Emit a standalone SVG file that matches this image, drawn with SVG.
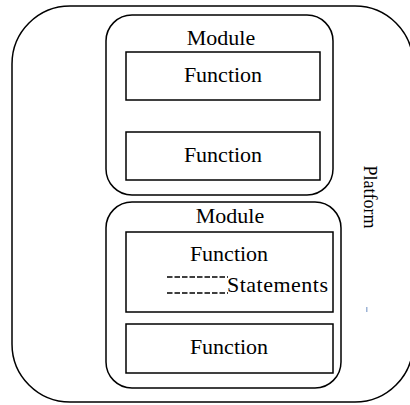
<svg xmlns="http://www.w3.org/2000/svg" width="410" height="405" viewBox="0 0 410 405">
<style>
.box{fill:none;stroke:#000;stroke-width:1.5}
.lbl{font-family:"Liberation Serif","Times New Roman",serif;font-size:22px;fill:#000;text-anchor:middle}
.dash{stroke:#000;stroke-width:1.5;stroke-dasharray:5.5 2}
</style>
<rect width="410" height="405" fill="#fff"/>
<g id="platform">
<rect class="box" x="12" y="6" width="401" height="396" rx="58" ry="58"/>
<text class="lbl" style="font-size:18px" transform="translate(364,197) rotate(90)">Platform</text>
<rect x="366" y="307" width="1.5" height="5" fill="#9db4d6"/>
</g>
<g id="module1">
<rect class="box" x="106" y="15" width="227" height="180" rx="26" ry="26"/>
<text class="lbl" x="221" y="45">Module</text>
</g>
<g id="function1">
<rect class="box" x="126" y="52" width="194" height="48"/>
<text class="lbl" x="223" y="82">Function</text>
</g>
<g id="function2">
<rect class="box" x="126" y="132" width="194" height="48"/>
<text class="lbl" x="223" y="162">Function</text>
</g>
<g id="module2">
<rect class="box" x="106" y="202" width="235" height="186" rx="26" ry="26"/>
<text class="lbl" x="230" y="223">Module</text>
</g>
<g id="function3">
<rect class="box" x="126" y="232" width="207" height="80"/>
<text class="lbl" x="229" y="261">Function</text>
<line class="dash" x1="167" y1="277" x2="228" y2="277"/>
<line class="dash" x1="167" y1="293" x2="228" y2="293"/>
<text class="lbl" x="227" y="292" style="text-anchor:start" textLength="101">Statements</text>
</g>
<g id="function4">
<rect class="box" x="126" y="324" width="207" height="49"/>
<text class="lbl" x="229" y="354">Function</text>
</g>
<g id="connectors"></g>
</svg>
